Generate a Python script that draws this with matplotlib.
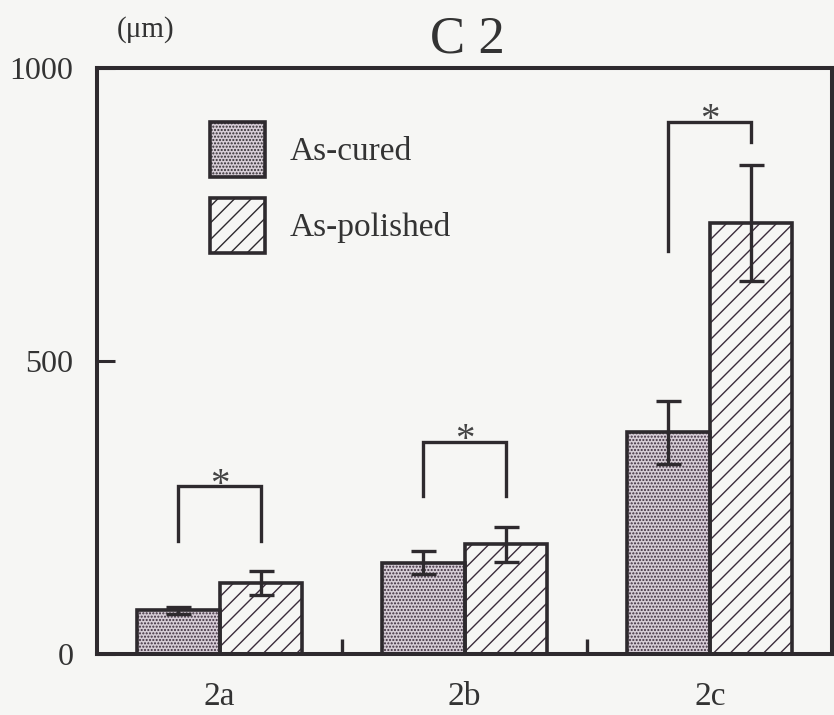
import matplotlib
matplotlib.use("Agg")
import matplotlib.pyplot as plt
from matplotlib.patches import Patch
import numpy as np

# ---- data ----
categories = ["2a", "2b", "2c"]
series_names = ["As-cured", "As-polished"]
cured = [75, 156, 378]
cured_err = [6, 19, 54]
polished = [121, 187, 735]
polished_err = [21, 30, 99]
# significance brackets: (top, left-bottom, right-bottom)
bracket_top = [286, 362, 908]
bracket_left_bottom = [192, 270, 687]
bracket_right_bottom = [192, 270, 874]
y_ticks = [0, 500, 1000]

# ---- style ----
plt.rcParams['font.family'] = ['Liberation Serif', 'DejaVu Serif']
plt.rcParams['hatch.linewidth'] = 1.0
bg = '#f6f6f4'
dark = '#2e2a2e'
hatch_col = '#3b2c3b'
cured_face = '#d6cdd6'

fig = plt.figure(figsize=(8.34, 7.15), dpi=100, facecolor=bg)
ax = fig.add_axes([0.1163, 0.0853, 0.8817, 0.8196])
ax.set_facecolor(bg)

x = np.arange(len(categories))
w = 0.337

def draw_bars(xpos, vals, face, hatch):
    # hatch layer
    ax.bar(xpos, vals, w, color=face, edgecolor=hatch_col, hatch=hatch,
           linewidth=0, zorder=2)
    # outline
    ax.bar(xpos, vals, w, fill=False, edgecolor=dark, linewidth=2.6, zorder=3)

draw_bars(x - w / 2, cured, cured_face, '.....')
draw_bars(x + w / 2, polished, bg, '//')

ax.errorbar(x - w / 2, cured, yerr=cured_err, fmt='none', ecolor=dark,
            elinewidth=2.4, capsize=9, capthick=2.4, zorder=4)
ax.errorbar(x + w / 2, polished, yerr=polished_err, fmt='none', ecolor=dark,
            elinewidth=2.4, capsize=9, capthick=2.4, zorder=4)

# significance brackets
for i in range(len(categories)):
    xl = x[i] - w / 2
    xr = x[i] + w / 2
    ax.plot([xl, xl, xr, xr],
            [bracket_left_bottom[i], bracket_top[i], bracket_top[i], bracket_right_bottom[i]],
            color=dark, lw=2.4, solid_joinstyle='miter', zorder=4)
    ax.annotate('*', xy=(x[i], bracket_top[i]), xytext=(0, 1),
                textcoords='offset points', ha='center', va='center',
                fontsize=28, color='#444')

ax.set_xlim(-0.5, 2.5)
ax.set_ylim(0, 1000)

for s in ax.spines.values():
    s.set_linewidth(2.9)
    s.set_color(dark)

ax.set_yticks(y_ticks)
ax.set_yticklabels([str(v) for v in y_ticks])
ax.tick_params(axis='y', direction='in', length=13, width=2.2, color=dark,
               labelsize=23, pad=17, labelcolor='#333')
ax.set_xticks(x)
ax.set_xticklabels(categories)
ax.tick_params(axis='x', which='major', length=0, labelsize=24, pad=20,
               labelcolor='#333')
ax.set_xticks([0.5, 1.5], minor=True)
ax.tick_params(axis='x', which='minor', direction='in', length=11, width=2.4,
               color=dark)

# legend
handles = [
    Patch(facecolor=cured_face, edgecolor=dark, hatch='.....', linewidth=2.6),
    Patch(facecolor=bg, edgecolor=dark, hatch='//', linewidth=2.6),
]
leg = ax.legend(handles, series_names, loc='upper left',
                bbox_to_anchor=(0.153, 0.908), frameon=False, fontsize=24,
                handlelength=1.65, handleheight=2.16, handletextpad=0.75,
                labelspacing=0.64, borderpad=0, borderaxespad=0)
for t in leg.get_texts():
    t.set_color('#333')

fig.text(0.56, 0.945, 'C 2', ha='center', va='center', fontsize=38, color='#333')
fig.text(0.175, 0.958, '(μm)', ha='center', va='center', fontsize=21, color='#333')

fig.savefig('out.png', dpi=100, facecolor=bg)
